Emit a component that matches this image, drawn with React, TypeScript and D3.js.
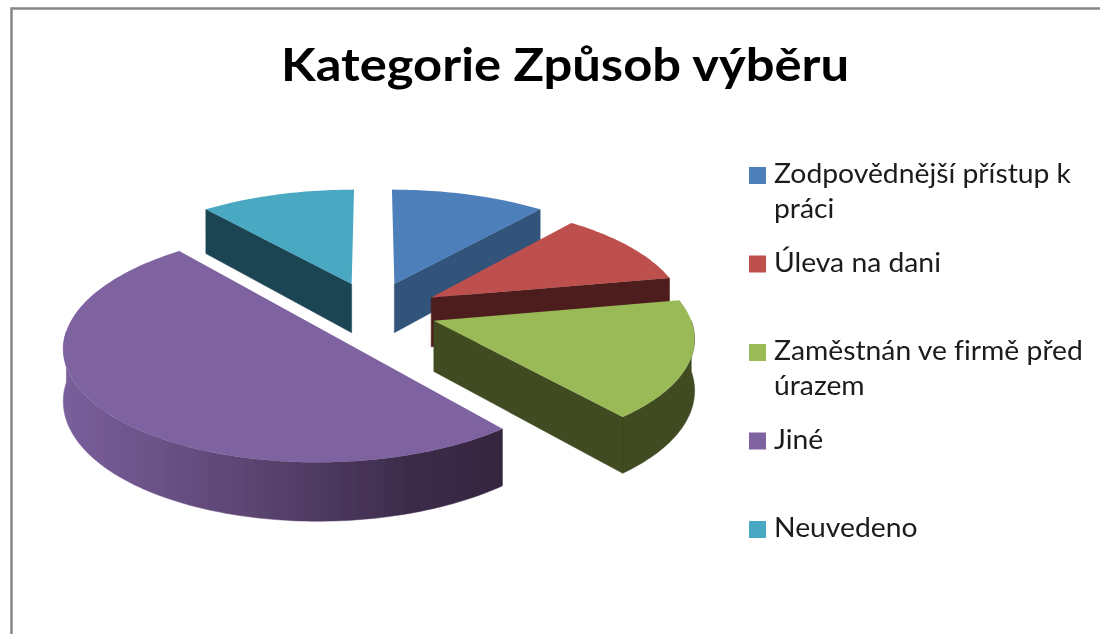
import React from 'react';
import * as d3 from 'd3';

const title = 'Kategorie Způsob výběru';
const categories = ['Zodpovědnější přístup k práci', 'Úleva na dani', 'Zaměstnán ve firmě před úrazem', 'Jiné', 'Neuvedeno'];
const legendLines = [['Zodpovědnější přístup k', 'práci'], ['Úleva na dani'], ['Zaměstnán ve firmě před', 'úrazem'], ['Jiné'], ['Neuvedeno']];
const values = [11, 11, 17, 50, 11];
const topColors = ['#4d7fba', '#bd504d', '#9aba59', '#7f63a0', '#4aa9c3'];
const wallColors = ['#30527a', '#4e1f1d', '#404b21', 'url(#purpleWall)', '#1e4552'];

// how far each slice is pulled out of the pie, and its radius, in pie-plane units
const pullX = [22, 59, 60, -47, -22];
const pullZ = [59.5, 27, -27, -50, 59.5];
const radii = [262, 253, 254, 252, 262];

const width = 1100;
const height = 634;
const cx = 373;
const cy = 309;
const depth = 50;
const tilt = 0.431;
const camera = 2000;

// pie plane -> screen, with a bit of perspective
const project = (x: number, z: number, h: number): [number, number] => {
  const s = 1 / (1 + z / camera);
  return [cx + x * s, cy - tilt * z * s + h * s];
};

const angleSteps = (a0: number, a1: number) => {
  const n = Math.max(2, Math.ceil((a1 - a0) / 0.02));
  return d3.range(n + 1).map(i => a0 + ((a1 - a0) * i) / n);
};

const line = d3.line<[number, number]>();
const legendY = d3.scaleLinear().domain([0, 4]).range([167, 521]);

function Slice({ d, i }: { d: d3.PieArcDatum<number>; i: number }) {
  const ox = pullX[i];
  const oz = pullZ[i];
  const r = radii[i];
  const rim = (a: number, h: number) => project(ox + r * Math.sin(a), oz + r * Math.cos(a), h);
  const apex = (h: number) => project(ox, oz, h);

  const topPath = line([apex(0), ...angleSteps(d.startAngle, d.endAngle).map(a => rim(a, 0))]) + 'Z';

  let walls = '';
  if (Math.sin(d.startAngle) < -0.001) {
    walls += line([apex(0), rim(d.startAngle, 0), rim(d.startAngle, depth), apex(depth)]) + 'Z';
  }
  if (Math.sin(d.endAngle) > 0.001) {
    walls += line([apex(0), rim(d.endAngle, 0), rim(d.endAngle, depth), apex(depth)]) + 'Z';
  }
  // outer wall: only the front half of the circle faces the viewer
  const a0 = Math.max(d.startAngle, Math.PI / 2);
  const a1 = Math.min(d.endAngle, (3 * Math.PI) / 2);
  if (a1 > a0) {
    const steps = angleSteps(a0, a1);
    walls += line([...steps.map(a => rim(a, 0)), ...steps.slice().reverse().map(a => rim(a, depth))]) + 'Z';
  }

  return (
    <g>
      <path d={walls} fill={wallColors[i]} stroke={wallColors[i]} strokeWidth={0.5} />
      <path d={topPath} fill={topColors[i]} />
    </g>
  );
}

export default function App() {
  const arcs = d3.pie<number>().sort(null).value(v => v)(values);

  return (
    <svg width={width} height={height} style={{ position: 'absolute', left: 0, top: 0, background: '#fff' }}>
      <defs>
        <linearGradient id="purpleWall" gradientUnits="userSpaceOnUse" x1={63} x2={500} y1={0} y2={0}>
          <stop offset="0" stopColor="#7a5f9c" />
          <stop offset="0.45" stopColor="#5a4370" />
          <stop offset="0.8" stopColor="#3c2b4a" />
          <stop offset="1" stopColor="#35263f" />
        </linearGradient>
        <filter id="soft" x="-5%" y="-5%" width="110%" height="110%">
          <feGaussianBlur stdDeviation="0.5" />
        </filter>
      </defs>

      <path d="M11.5,634V8.5H1100" fill="none" stroke="#868686" strokeWidth={2.5} />

      <text
        x={281}
        y={81}
        fontFamily="Lato"
        fontWeight={700}
        fontSize={46}
        fill="#000"
        textLength={568}
        lengthAdjust="spacingAndGlyphs"
        filter="url(#soft)"
      >
        {title}
      </text>

      <g filter="url(#soft)">
        {arcs.map((d, i) => (
          <Slice key={categories[i]} d={d} i={i} />
        ))}
      </g>

      <g filter="url(#soft)">
        {categories.map((c, i) => (
          <g key={c} transform={`translate(749,${legendY(i)})`}>
            <rect width={17} height={17} fill={topColors[i]} />
            {legendLines[i].map((t, k) => (
              <text
                key={t}
                transform={`translate(25,${16 + k * 35}) scale(1.048,1)`}
                fontFamily="Lato"
                fontSize={27}
                fill="#1a1a1a"
                style={{ fontVariantLigatures: 'none' }}
              >
                {t}
              </text>
            ))}
          </g>
        ))}
      </g>
    </svg>
  );
}
